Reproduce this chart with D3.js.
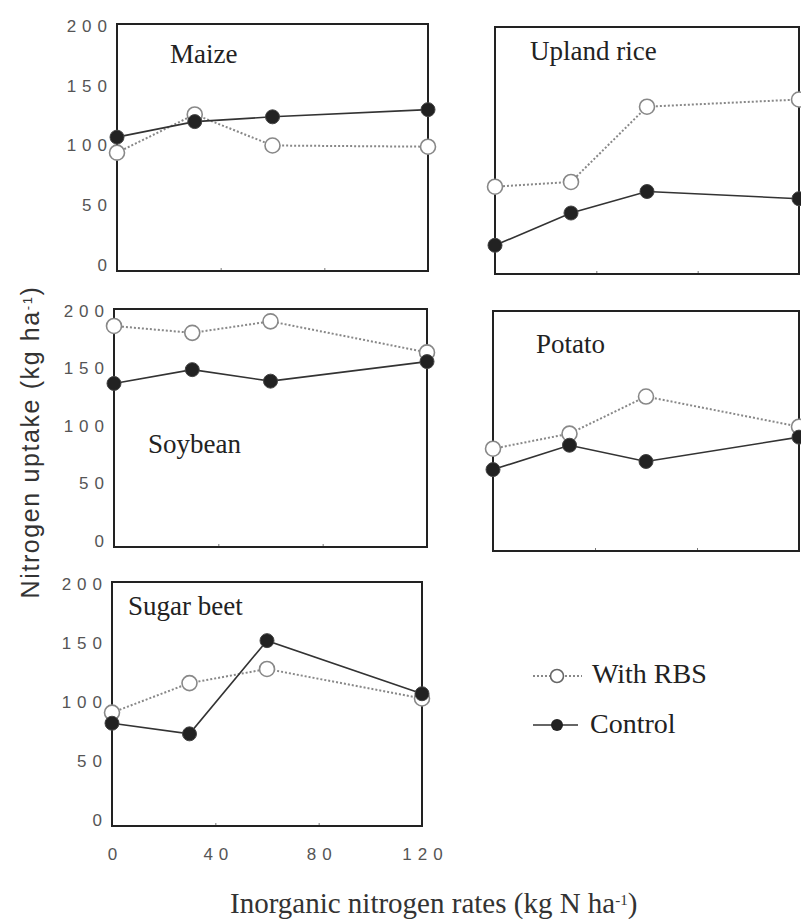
<!DOCTYPE html>
<html>
<head>
<meta charset="utf-8">
<script src="https://cdn.jsdelivr.net/npm/d3@7"></script>
<style>
  body { margin: 0; background: #fff; }
  svg { display: block; }
</style>
</head>
<body>
<div id="chart"></div>
<script>
// Data
const rates = [0, 30, 60, 120];
const crops = ["Maize", "Upland rice", "Soybean", "Potato", "Sugar beet"];
const rbsValues = [
    [94, 126, 100, 99],
    [68, 72, 135, 141],
    [187, 181, 191, 164],
    [83, 96, 128, 102],
    [91, 116, 128, 103],
];
const controlValues = [
    [107, 120, 124, 130],
    [19, 46, 64, 58],
    [137, 149, 139, 156],
    [65, 86, 72, 93],
    [82, 73, 152, 107],
];
const yTicks = [0, 50, 100, 150, 200];
const xTicks = [0, 40, 80, 120];
const legendLabels = ["With RBS", "Control"];

// Panel frames (pixels) and where the crop name sits
const layout = [
    { left: 117, right: 428, top: 24, bottom: 271, tx: 170, ty: 63, yAxis: true, xAxis: false },
    { left: 495, right: 799, top: 27, bottom: 274, tx: 530, ty: 60, yAxis: false, xAxis: false },
    { left: 114, right: 427, top: 309, bottom: 547, tx: 148, ty: 453, yAxis: true, xAxis: false },
    { left: 493, right: 799, top: 311, bottom: 551, tx: 536, ty: 353, yAxis: false, xAxis: false },
    { left: 112, right: 422, top: 582, bottom: 826, tx: 128, ty: 615, yAxis: true, xAxis: true },
];

let width = 801;
let height = 919;

const serif = "'Liberation Serif', 'Times New Roman', serif";
const sans = "'Liberation Sans', Arial, sans-serif";
const tickSpacing = 6;

let svg = d3
    .select("#chart")
    .append("svg")
    .attr("width", width)
    .attr("height", height);

svg.append("rect")
    .attr("width", width)
    .attr("height", height)
    .attr("fill", "#fff");

const drawPanel = (i) => {
    const p = layout[i];
    const g = svg.append("g").attr("class", "panel");

    let x = d3.scaleLinear().domain([0, 120]).range([p.left, p.right]);
    // 0 sits a few pixels above the bottom edge of the frame
    let y = d3.scaleLinear().domain([0, 200]).range([p.bottom - 6, p.top + 2]);

    // small inner ticks on the bottom edge
    g.append("g")
        .attr("transform", "translate(0," + p.bottom + ")")
        .call(d3.axisBottom(x).tickValues([40, 80]).tickSize(-3).tickFormat(""))
        .call((a) => a.select(".domain").remove())
        .selectAll("line")
        .attr("stroke", "#777");

    if (p.yAxis) {
        const ya = g.append("g")
            .attr("transform", "translate(" + (p.left - 10 + tickSpacing) + ",0)")
            .call(d3.axisLeft(y).tickValues(yTicks).tickSize(0).tickPadding(0));
        ya.select(".domain").remove();
        ya.selectAll("text")
            .attr("font-family", sans)
            .attr("font-size", 17)
            .attr("letter-spacing", tickSpacing)
            .attr("fill", "#555");
    }

    if (p.xAxis) {
        const xa = g.append("g")
            .attr("transform", "translate(" + tickSpacing / 2 + "," + (p.bottom + 22) + ")")
            .call(d3.axisBottom(x).tickValues(xTicks).tickSize(0).tickPadding(0));
        xa.select(".domain").remove();
        xa.selectAll("text")
            .attr("font-family", sans)
            .attr("font-size", 17)
            .attr("letter-spacing", tickSpacing)
            .attr("fill", "#555");
    }

    // frame
    g.append("rect")
        .attr("x", p.left)
        .attr("y", p.top)
        .attr("width", p.right - p.left)
        .attr("height", p.bottom - p.top)
        .attr("fill", "none")
        .attr("stroke", "#222")
        .attr("stroke-width", 2);

    g.append("text")
        .attr("x", p.tx)
        .attr("y", p.ty)
        .attr("font-family", serif)
        .attr("font-size", 27)
        .attr("fill", "#222")
        .text(crops[i]);

    let line = d3
        .line()
        .x((d, j) => x(rates[j]))
        .y((d) => y(d));

    // With RBS: dotted grey line, open circles
    g.append("path")
        .datum(rbsValues[i])
        .attr("fill", "none")
        .attr("stroke", "#888")
        .attr("stroke-width", 2)
        .attr("stroke-dasharray", "2,2")
        .attr("d", line);
    g.selectAll(".rbs")
        .data(rbsValues[i])
        .enter()
        .append("circle")
        .attr("class", "rbs")
        .attr("cx", (d, j) => x(rates[j]))
        .attr("cy", (d) => y(d))
        .attr("r", 7.5)
        .attr("fill", "#fff")
        .attr("stroke", "#888")
        .attr("stroke-width", 1.6);

    // Control: solid line, filled dots
    g.append("path")
        .datum(controlValues[i])
        .attr("fill", "none")
        .attr("stroke", "#333")
        .attr("stroke-width", 1.6)
        .attr("d", line);
    g.selectAll(".ctrl")
        .data(controlValues[i])
        .enter()
        .append("circle")
        .attr("class", "ctrl")
        .attr("cx", (d, j) => x(rates[j]))
        .attr("cy", (d) => y(d))
        .attr("r", 7)
        .attr("fill", "#222")
        .attr("stroke", "#444")
        .attr("stroke-width", 1);
};

crops.forEach((c, i) => drawPanel(i));

// Legend
const legend = svg.append("g").attr("class", "legend");
legend.append("line")
    .attr("x1", 533).attr("x2", 582)
    .attr("y1", 676).attr("y2", 676)
    .attr("stroke", "#888")
    .attr("stroke-width", 2)
    .attr("stroke-dasharray", "2,2");
legend.append("circle")
    .attr("cx", 557).attr("cy", 676).attr("r", 6.5)
    .attr("fill", "#fff")
    .attr("stroke", "#666")
    .attr("stroke-width", 1.6);
legend.append("text")
    .attr("x", 592).attr("y", 683)
    .attr("font-family", serif)
    .attr("font-size", 28)
    .attr("fill", "#222")
    .text(legendLabels[0]);

legend.append("line")
    .attr("x1", 533).attr("x2", 578)
    .attr("y1", 725).attr("y2", 725)
    .attr("stroke", "#333")
    .attr("stroke-width", 1.6);
legend.append("circle")
    .attr("cx", 557).attr("cy", 725).attr("r", 6)
    .attr("fill", "#222");
legend.append("text")
    .attr("x", 590).attr("y", 733)
    .attr("font-family", serif)
    .attr("font-size", 28)
    .attr("fill", "#222")
    .text(legendLabels[1]);

// Axis titles
const yTitle = svg.append("text")
    .attr("transform", "translate(39,442) rotate(-90)")
    .attr("text-anchor", "middle")
    .attr("font-family", sans)
    .attr("font-size", 25)
    .attr("letter-spacing", 1.6)
    .attr("fill", "#333");
yTitle.append("tspan").text("Nitrogen uptake (kg ha");
yTitle.append("tspan").attr("font-size", 13).attr("baseline-shift", "super").text("-1");
yTitle.append("tspan").text(")");

const xTitle = svg.append("text")
    .attr("x", 230)
    .attr("y", 913)
    .attr("font-family", serif)
    .attr("font-size", 29)
    .attr("fill", "#333");
xTitle.append("tspan").text("Inorganic nitrogen rates (kg N ha");
xTitle.append("tspan").attr("font-size", 15).attr("baseline-shift", "super").text("-1");
xTitle.append("tspan").text(")");
</script>
</body>
</html>
